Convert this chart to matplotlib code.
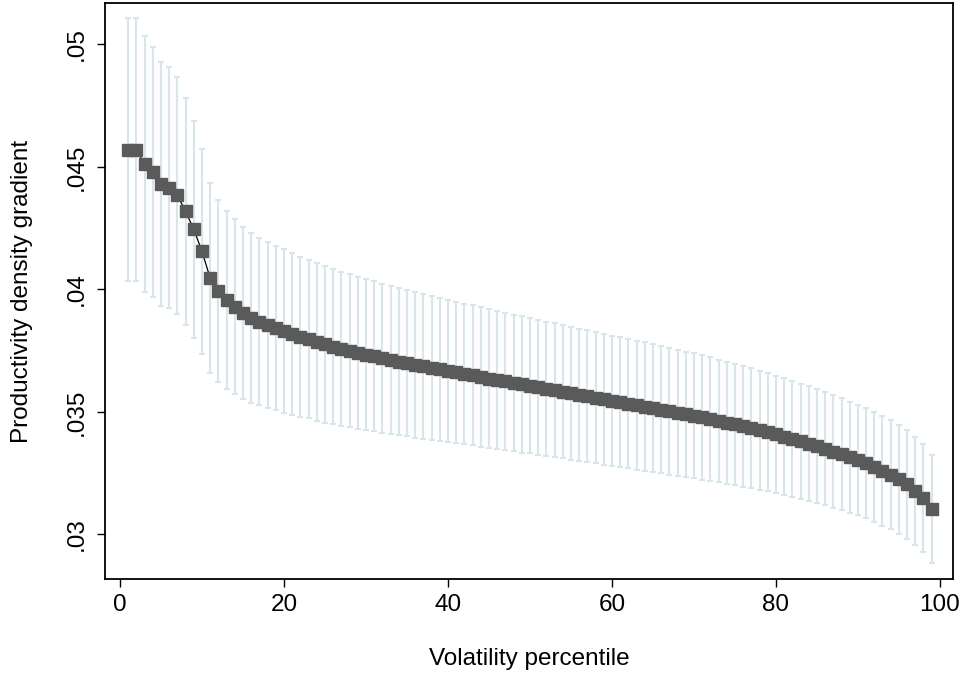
import matplotlib

matplotlib.use("Agg")
import matplotlib.pyplot as plt
import numpy as np

plt.rcParams["font.family"] = ["Liberation Sans", "DejaVu Sans"]

# volatility percentile (x) and the point estimate of the gradient
percentile = list(range(1, 100))
estimate = [
    0.04569, 0.04569, 0.04511, 0.04478, 0.04430, 0.04415, 0.04384, 0.04318, 0.04245, 0.04155,
    0.04046, 0.03993, 0.03956, 0.03929, 0.03902, 0.03882, 0.03868, 0.03854, 0.03842, 0.03830,
    0.03818, 0.03806, 0.03796, 0.03785, 0.03775, 0.03765, 0.03757, 0.03749, 0.03741, 0.03733,
    0.03726, 0.03719, 0.03712, 0.03705, 0.03699, 0.03692, 0.03686, 0.03680, 0.03673, 0.03667,
    0.03661, 0.03655, 0.03649, 0.03642, 0.03636, 0.03630, 0.03624, 0.03618, 0.03612, 0.03606,
    0.03600, 0.03594, 0.03588, 0.03582, 0.03576, 0.03570, 0.03564, 0.03558, 0.03551, 0.03545,
    0.03539, 0.03533, 0.03527, 0.03521, 0.03515, 0.03509, 0.03502, 0.03496, 0.03490, 0.03484,
    0.03477, 0.03470, 0.03463, 0.03456, 0.03449, 0.03441, 0.03433, 0.03425, 0.03416, 0.03408,
    0.03399, 0.03389, 0.03380, 0.03370, 0.03360, 0.03349, 0.03338, 0.03327, 0.03315, 0.03303,
    0.03290, 0.03276, 0.03260, 0.03243, 0.03225, 0.03204, 0.03178, 0.03147, 0.03102,
]
# half width of the confidence interval
ci_half = [
    0.00537, 0.00537, 0.00522, 0.00511, 0.00496, 0.00491, 0.00484, 0.00465, 0.00444, 0.00419,
    0.00387, 0.00373, 0.00364, 0.00357, 0.00351, 0.00347, 0.00342, 0.00339, 0.00335, 0.00333,
    0.00332, 0.00326, 0.00323, 0.00321, 0.00320, 0.00316, 0.00314, 0.00312, 0.00310, 0.00308,
    0.00306, 0.00304, 0.00302, 0.00300, 0.00298, 0.00297, 0.00295, 0.00293, 0.00292, 0.00290,
    0.00289, 0.00287, 0.00286, 0.00284, 0.00283, 0.00281, 0.00280, 0.00279, 0.00278, 0.00276,
    0.00275, 0.00274, 0.00273, 0.00272, 0.00271, 0.00270, 0.00269, 0.00268, 0.00267, 0.00266,
    0.00265, 0.00264, 0.00263, 0.00262, 0.00261, 0.00260, 0.00259, 0.00258, 0.00256, 0.00255,
    0.00254, 0.00252, 0.00250, 0.00249, 0.00247, 0.00246, 0.00244, 0.00243, 0.00241, 0.00240,
    0.00238, 0.00237, 0.00235, 0.00234, 0.00233, 0.00231, 0.00230, 0.00228, 0.00227, 0.00226,
    0.00225, 0.00224, 0.00224, 0.00223, 0.00222, 0.00222, 0.00221, 0.00220, 0.00220,
]

xticks = [0, 20, 40, 60, 80, 100]
yticks = [0.03, 0.035, 0.04, 0.045, 0.05]
ytick_labels = [".03", ".035", ".04", ".045", ".05"]

fig = plt.figure(figsize=(9.64, 6.75), dpi=100)
ax = fig.add_axes([0.1094, 0.1422, 0.8792, 0.8533])

ax.errorbar(
    percentile,
    estimate,
    yerr=ci_half,
    fmt="none",
    ecolor="#d8e6ec",
    elinewidth=1.5,
    capsize=2.5,
    capthick=1.5,
    zorder=1,
)
ax.plot(percentile, estimate, color="black", linewidth=0.9, zorder=2)
ax.plot(
    percentile,
    estimate,
    linestyle="none",
    marker="s",
    markersize=8,
    markerfacecolor="#5a5a5a",
    markeredgecolor="#5a5a5a",
    zorder=3,
)

ax.set_xlim(-1.77, 101.6)
ax.set_ylim(0.028176, 0.051686)
ax.set_xticks(xticks)
ax.set_xticklabels([str(t) for t in xticks])
ax.set_yticks(yticks)
ax.set_yticklabels(ytick_labels, rotation=90, va="center")

for spine in ax.spines.values():
    spine.set_linewidth(1.3)
    spine.set_color("black")
ax.tick_params(axis="both", direction="out", length=6, width=1.0, labelsize=17.5)
ax.tick_params(axis="x", pad=5)
ax.tick_params(axis="y", pad=7)

ax.set_xlabel("Volatility percentile", fontsize=17.5, labelpad=23)
ax.set_ylabel("Productivity density gradient", fontsize=17.5, labelpad=23)

fig.savefig("out.png", dpi=100)
